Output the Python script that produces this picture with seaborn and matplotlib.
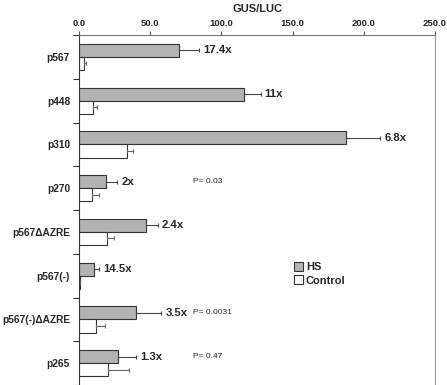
import matplotlib
matplotlib.use("Agg")
import matplotlib.pyplot as plt
import numpy as np
import pandas as pd
import seaborn as sns

constructs = ["p567", "p448", "p310", "p270", "p567\u0394AZRE", "p567(-)",
              "p567(-)\u0394AZRE", "p265"]
hs_values = [70.5, 116.2, 187.4, 18.9, 47.4, 10.3, 39.9, 27.3]
hs_errors = [13.5, 11.3, 24.0, 8.0, 8.0, 3.5, 18.0, 12.6]
control_values = [3.8, 10.0, 33.4, 9.3, 19.4, 0.6, 11.7, 20.3]
control_errors = [1.2, 2.4, 4.7, 4.5, 5.0, 0.4, 6.7, 15.0]
fold_labels = ["17.4x", "11x", "6.8x", "2x", "2.4x", "14.5x", "3.5x", "1.3x"]
p_labels = {"p270": "P= 0.03", "p567(-)\u0394AZRE": "P= 0.0031", "p265": "P= 0.47"}
p_label_x = 80

df = pd.DataFrame({
    "construct": constructs * 2,
    "value": hs_values + control_values,
    "condition": ["HS"] * len(constructs) + ["Control"] * len(constructs),
})

sns.set_style("white")
plt.rcParams["font.family"] = ["Liberation Sans", "DejaVu Sans"]

fig = plt.figure(figsize=(4.47, 3.85), dpi=100)
ax = fig.add_axes([0.1767, 0.0, 0.7965, 0.909])

sns.barplot(
    data=df, x="value", y="construct", hue="condition", orient="h",
    palette={"HS": "#b3b3b3", "Control": "white"}, width=0.6,
    edgecolor="#333333", linewidth=0.8, errorbar=None, ax=ax,
)

# one-sided error bars
for container, errs, col in zip(ax.containers, [hs_errors, control_errors],
                                 ["#444444", "#666666"]):
    xs = [p.get_width() for p in container.patches]
    ys = [p.get_y() + p.get_height() / 2 for p in container.patches]
    ax.errorbar(xs, ys, xerr=[np.zeros(len(errs)), errs], fmt="none",
                ecolor=col, elinewidth=0.8, capsize=1.5, capthick=0.8)

hs_patches = ax.containers[0].patches
for i, p in enumerate(hs_patches):
    yc = p.get_y() + p.get_height() / 2
    ax.annotate(fold_labels[i], (hs_values[i] + hs_errors[i], yc),
                xytext=(3, 0), textcoords="offset points", va="center",
                ha="left", fontsize=8.2, fontweight="bold")
    if constructs[i] in p_labels:
        ax.text(p_label_x, yc, p_labels[constructs[i]], va="center",
                ha="left", fontsize=6)

ax.set_xlim(0, 250)
ax.set_ylim(7.5, -0.5)
ax.set_xticks(np.arange(0, 251, 50))
ax.set_xticklabels([f"{v:.1f}" for v in np.arange(0, 251, 50)],
                   fontsize=6.8, fontweight="bold")
ax.xaxis.tick_top()
ax.xaxis.set_label_position("top")
ax.set_xlabel("GUS/LUC", fontsize=8, fontweight="bold", labelpad=5)
ax.set_ylabel("")
ax.tick_params(axis="x", direction="out", length=3, width=0.8, pad=2,
               top=True, bottom=False, color="#555555")
ax.set_yticks(range(len(constructs)))
ax.set_yticklabels(constructs, fontsize=7.3, fontweight="bold")
ax.set_yticks(np.arange(-0.5, len(constructs)), minor=True)
ax.tick_params(axis="y", which="major", length=0, pad=6.5)
ax.tick_params(axis="y", which="minor", direction="out", length=4,
               width=0.8, color="#333333", left=True)

ax.spines["bottom"].set_visible(False)
ax.spines["left"].set_color("#333333")
ax.spines["top"].set_color("#777777")
ax.spines["right"].set_color("#999999")
for s in ax.spines.values():
    s.set_linewidth(0.8)

leg = ax.legend(loc="upper left", bbox_to_anchor=(0.575, 0.38), frameon=False,
                handlelength=0.8, handleheight=0.8, handletextpad=0.3,
                labelspacing=0.3, prop={"size": 8, "weight": "bold"})

fig.savefig("out.png", dpi=100)
